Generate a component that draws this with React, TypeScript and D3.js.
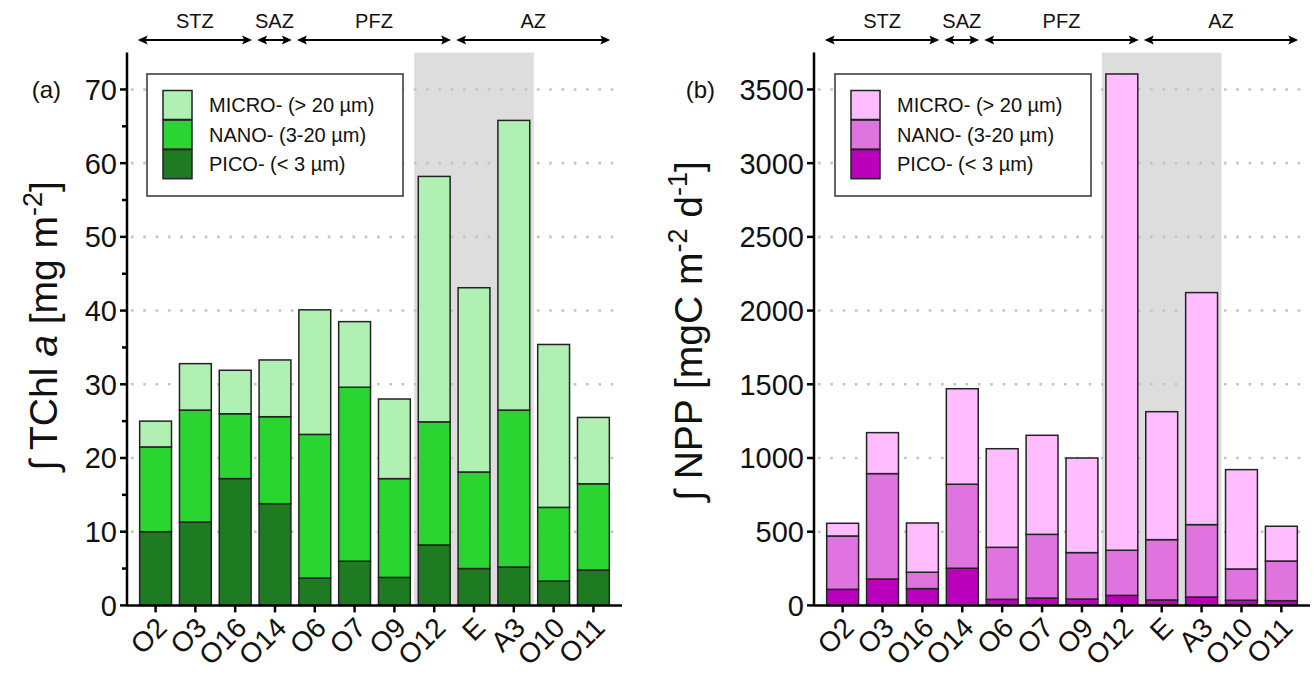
import React from 'react';
import * as d3 from 'd3';

// ---------- data ----------
const categories = ['O2', 'O3', 'O16', 'O14', 'O6', 'O7', 'O9', 'O12', 'E', 'A3', 'O10', 'O11'];

// (a) integrated TChl a [mg m-2] by size class
const chlPico = [10.0, 11.3, 17.2, 13.8, 3.7, 6.0, 3.8, 8.2, 5.0, 5.2, 3.3, 4.8];
const chlNano = [11.5, 15.2, 8.8, 11.8, 19.5, 23.6, 13.4, 16.7, 13.1, 21.3, 10.0, 11.7];
const chlMicro = [3.5, 6.3, 5.9, 7.7, 16.9, 8.9, 10.8, 33.3, 25.0, 39.3, 22.1, 9.0];

// (b) integrated NPP [mgC m-2 d-1] by size class
const nppPico = [109, 179, 114, 252, 41, 50, 43, 68, 37, 57, 35, 32];
const nppNano = [362, 715, 111, 570, 353, 432, 315, 306, 409, 491, 212, 269];
const nppMicro = [86, 278, 334, 648, 669, 672, 642, 3231, 868, 1574, 674, 236];

const chlTicks = [0, 10, 20, 30, 40, 50, 60, 70];
const chlMinorTicks = [5, 15, 25, 35, 45, 55, 65];
const nppTicks = [0, 500, 1000, 1500, 2000, 2500, 3000, 3500];

const zoneNames = ['STZ', 'SAZ', 'PFZ', 'AZ'];
const zoneStart = ['O2', 'O14', 'O6', 'E'];
const zoneEnd = ['O16', 'O14', 'O12', 'O11'];
const shadedStart = 'O12';
const shadedEnd = 'A3';

const legendLabels = ['MICRO- (> 20 µm)', 'NANO- (3-20 µm)', 'PICO- (< 3 µm)'];
const seriesKeys = ['pico', 'nano', 'micro'];

const greenColors = { pico: '#1e7b22', nano: '#2bd531', micro: '#b0f0b3' };
const pinkColors = { pico: '#bb00bb', nano: '#e074df', micro: '#ffbcff' };

const FONT = '"Liberation Sans", Arial, Helvetica, sans-serif';

type PanelProps = {
  x0: number;
  x1: number;
  yMax: number;
  ticks: number[];
  minor: number[];
  pico: number[];
  nano: number[];
  micro: number[];
  colors: { [k: string]: string };
  legendX: number;
  label: string;
  labelX: number;
  title: React.ReactNode;
};

const Y0 = 605.4;
const YTOP = 52.6;

function Panel(p: PanelProps) {
  const x = d3.scaleBand<string>().domain(categories).range([p.x0, p.x1]).paddingInner(0.2).paddingOuter(0.318);
  const y = d3.scaleLinear().domain([0, p.yMax]).range([Y0, YTOP]);
  const step = x.step();
  const bw = x.bandwidth();
  const gap = step * 0.1;

  const rows = categories.map((c, i) => ({ cat: c, pico: p.pico[i], nano: p.nano[i], micro: p.micro[i] }));
  const stacked = d3.stack<any>().keys(seriesKeys)(rows);

  const shadeX0 = (x(shadedStart) as number) - gap;
  const shadeX1 = (x(shadedEnd) as number) + bw + gap;

  const arrowY = 40;
  const head = 10;

  return (
    <g>
      {/* shaded zone */}
      <rect x={shadeX0} y={YTOP} width={shadeX1 - shadeX0} height={Y0 - YTOP} fill="#dddddd" />
      {/* gridlines */}
      {p.ticks.filter((t) => t > 0).map((t) => (
        <line key={'g' + t} x1={p.x0 + 4} x2={p.x1 - 3} y1={y(t)} y2={y(t)} stroke="#c4c4c4" strokeWidth={2.6} strokeDasharray="2.6 9.7" />
      ))}
      {/* bars */}
      {stacked.map((s) => (
        <g key={s.key}>
          {s.map((d, i) => (
            <rect
              key={i}
              x={x(categories[i])}
              width={bw}
              y={y(d[1])}
              height={y(d[0]) - y(d[1])}
              fill={p.colors[s.key]}
              stroke="#232323"
              strokeWidth={1.5}
            />
          ))}
        </g>
      ))}
      {/* legend */}
      <rect x={p.legendX} y={74} width={256} height={122} fill="#ffffff" stroke="#333" strokeWidth={1.5} />
      {legendLabels.map((lab, i) => {
        const key = ['micro', 'nano', 'pico'][i];
        return (
          <g key={lab}>
            <rect x={p.legendX + 16} y={90.5 + i * 29.6} width={29} height={29} fill={p.colors[key]} stroke="#232323" strokeWidth={1.5} />
            <text x={p.legendX + 62} y={105 + i * 29.6} dy="0.35em" fontSize={20} fontFamily={FONT} fill="#111">{lab}</text>
          </g>
        );
      })}
      {/* y axis */}
      <line x1={p.x0} x2={p.x0} y1={YTOP} y2={Y0} stroke="#000" strokeWidth={2.5} />
      {p.ticks.map((t) => (
        <g key={'t' + t}>
          <line x1={p.x0 - 7} x2={p.x0} y1={y(t)} y2={y(t)} stroke="#000" strokeWidth={2.5} />
          <text x={p.x0 - 10} y={y(t)} dy="0.36em" textAnchor="end" fontSize={29} fontFamily={FONT} fill="#111">{t}</text>
        </g>
      ))}
      {p.minor.map((t) => (
        <line key={'m' + t} x1={p.x0 - 5} x2={p.x0} y1={y(t)} y2={y(t)} stroke="#000" strokeWidth={2.5} />
      ))}
      {/* x axis */}
      <line x1={p.x0} x2={p.x1} y1={Y0} y2={Y0} stroke="#000" strokeWidth={2.5} />
      {categories.map((c) => {
        const cx = (x(c) as number) + bw / 2;
        return (
          <g key={'x' + c}>
            <line x1={cx} x2={cx} y1={Y0} y2={Y0 + 7} stroke="#000" strokeWidth={2.5} />
            <text transform={`translate(${cx + 13},${Y0 + 24}) rotate(-45)`} textAnchor="end" fontSize={28} fontFamily={FONT} fill="#111">{c}</text>
          </g>
        );
      })}
      {/* zone arrows */}
      {zoneNames.map((z, i) => {
        const a = (x(zoneStart[i]) as number) - gap + 2;
        const b = (x(zoneEnd[i]) as number) + bw + gap - 3;
        return (
          <g key={z}>
            <line x1={a + 4} x2={b - 4} y1={arrowY} y2={arrowY} stroke="#000" strokeWidth={2} />
            <path d={`M${a},${arrowY} L${a + head},${arrowY - 4.5} L${a + head - 2},${arrowY} L${a + head},${arrowY + 4.5} Z`} fill="#000" />
            <path d={`M${b},${arrowY} L${b - head},${arrowY - 4.5} L${b - head + 2},${arrowY} L${b - head},${arrowY + 4.5} Z`} fill="#000" />
            <text x={(a + b) / 2} y={28} textAnchor="middle" fontSize={20} fontFamily={FONT} fill="#111">{z}</text>
          </g>
        );
      })}
      {/* panel label */}
      <text x={p.labelX} y={98} textAnchor="end" fontSize={24} fontFamily={FONT} fill="#111">{p.label}</text>
      {p.title}
    </g>
  );
}

export default function App() {
  return (
    <svg width={1314} height={674} style={{ position: 'absolute', left: 0, top: 0, background: '#fff' }}>
      <rect width={1314} height={674} fill="#fff" />
      <Panel
        x0={127}
        x1={622}
        yMax={75}
        ticks={chlTicks}
        minor={chlMinorTicks}
        pico={chlPico}
        nano={chlNano}
        micro={chlMicro}
        colors={greenColors}
        legendX={147}
        label="(a)"
        labelX={61}
        title={
          <text transform="translate(57,326) rotate(-90)" textAnchor="middle" fontSize={39} fontFamily={FONT} fill="#111">
            ∫ TChl <tspan fontStyle="italic">a</tspan> [mg m<tspan dy={-15} fontSize={27}>-2</tspan><tspan dy={15}>]</tspan>
          </text>
        }
      />
      <Panel
        x0={814}
        x1={1310}
        yMax={3750}
        ticks={nppTicks}
        minor={[]}
        pico={nppPico}
        nano={nppNano}
        micro={nppMicro}
        colors={pinkColors}
        legendX={835}
        label="(b)"
        labelX={715}
        title={
          <text transform="translate(702,331) rotate(-90)" textAnchor="middle" fontSize={39} fontFamily={FONT} fill="#111">
            ∫ NPP [mgC m<tspan dy={-15} fontSize={27}>-2</tspan><tspan dy={15}> d</tspan><tspan dy={-15} fontSize={27}>-1</tspan><tspan dy={15}>]</tspan>
          </text>
        }
      />
    </svg>
  );
}
